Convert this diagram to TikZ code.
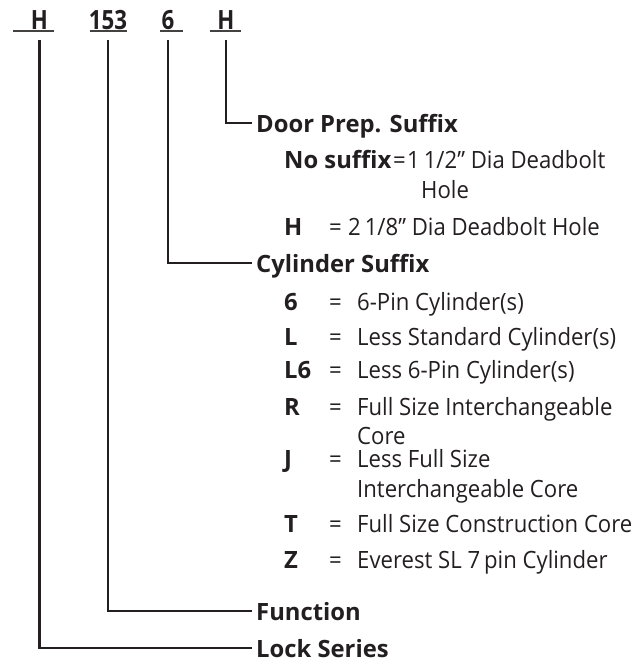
\documentclass[tikz,border=0pt]{standalone}
\usepackage{fontspec}
\setmainfont{Open Sans}[UprightFeatures={FakeStretch=0.93}]
\newfontfamily\codefont{Open Sans}[FakeStretch=0.84]
\definecolor{ink}{HTML}{231F20}
\begin{document}
\begin{tikzpicture}[x=1pt,y=1pt,
  every node/.style={text=ink},
  code/.style={font=\codefont\fontsize{26.5}{30}\selectfont\bfseries,anchor=base,inner sep=0pt,outer ysep=11pt},
  lbl/.style={font=\fontsize{23.8}{30}\selectfont\bfseries,anchor=west,inner xsep=4pt,inner ysep=0pt,text height=19pt,text depth=0pt},
  key/.style={font=\fontsize{23.8}{30}\selectfont\bfseries,anchor=base west,inner sep=0pt},
  desc/.style={font=\fontsize{23.8}{30}\selectfont,anchor=base west,inner sep=0pt},
  leader/.style={draw=ink,line width=2.6pt},
  uline/.style={draw=ink!85,line width=1.5pt}]
\useasboundingbox (0,0) rectangle (639,-662);

% model number
\node[code] (codeSeries) at (39.5,-29) {H};
\node[code] (codeFunction) at (108,-29) {153};
\node[code] (codeCylinder) at (168,-29) {6};
\node[code] (codeDoor) at (226,-29) {H};

\draw[uline] (13,-31) -- (54,-31);
\draw[uline] (90,-31) -- (127,-31);
\draw[uline] (160,-31) -- (183,-31);
\draw[uline] (210,-31) -- (241,-31);

% headings
\node[lbl] (lblDoor) at (252,-123) {Door Prep. Suffix};
\node[lbl] (lblCylinder) at (252,-263) {Cylinder Suffix};
\node[lbl] (lblFunction) at (252,-611) {Function};
\node[lbl] (lblSeries) at (252,-648) {Lock Series};

\draw[leader] (codeDoor.south) |- (lblDoor.west);
\draw[leader] (codeCylinder.south) |- (lblCylinder.west);
\draw[leader] (codeFunction.south) |- (lblFunction.west);
\draw[leader] (codeSeries.south) |- (lblSeries.west);

% door prep options
\node[key] (keyNone) at (284,-168) {No suffix};
\node[desc] at (393,-168) {=};
\node[desc] (doorNone) at (407,-168) {1\,1/2” Dia Deadbolt};
\node[desc] (doorNoneB) at (421,-198) {Hole};
\node[key] (keyH) at (284,-235) {H};
\node[desc] at (329,-235) {=};
\node[desc] (doorH) at (348,-235) {2\,1/8” Dia Deadbolt Hole};

% cylinder options
\node[key] (key6) at (284,-310) {6};
\node[key] (keyL) at (284,-345) {L};
\node[key] (keyLsix) at (284,-378) {L6};
\node[key] (keyR) at (284,-415) {R};
\node[key] (keyJ) at (284,-467) {J};
\node[key] (keyT) at (284,-532) {T};
\node[key] (keyZ) at (284,-568) {Z};

\node[desc] at (329,-310) {=};
\node[desc] at (329,-345) {=};
\node[desc] at (329,-378) {=};
\node[desc] at (329,-415) {=};
\node[desc] at (329,-467) {=};
\node[desc] at (329,-532) {=};
\node[desc] at (329,-568) {=};

\node[desc] (cyl6) at (357,-310) {6-Pin Cylinder(s)};
\node[desc] (cylL) at (357,-345) {Less Standard Cylinder(s)};
\node[desc] (cylLsix) at (357,-378) {Less 6-Pin Cylinder(s)};
\node[desc] (cylR) at (357,-415) {Full Size Interchangeable};
\node[desc] (cylRb) at (357,-444) {Core};
\node[desc] (cylJ) at (357,-467) {Less Full Size};
\node[desc] (cylJb) at (357,-497) {Interchangeable Core};
\node[desc] (cylT) at (357,-532) {Full Size Construction Core};
\node[desc] (cylZ) at (357,-568) {Everest SL 7\,pin Cylinder};
\end{tikzpicture}
\end{document}
